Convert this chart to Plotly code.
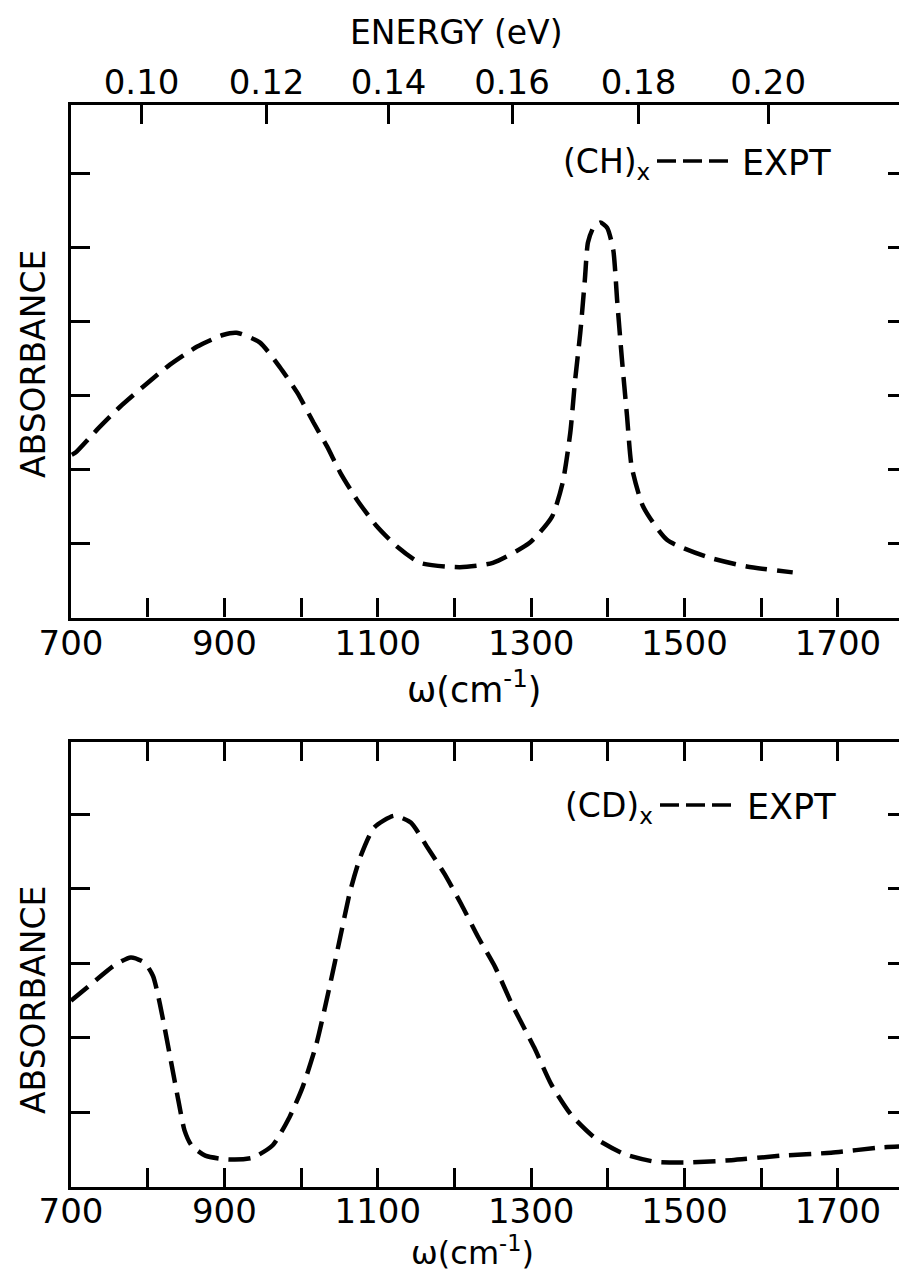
import plotly.graph_objects as go

# ---------------- data ----------------
# (CH)x experimental absorbance (arbitrary units, 1 unit = 1 tick step)
ch_wavenumber = [701, 706, 734, 764, 794, 829, 864, 898, 916, 946, 972, 995, 1016,
                 1034, 1051, 1073, 1099, 1125, 1155, 1207, 1250, 1298, 1327, 1341,
                 1351, 1357, 1364, 1370, 1374, 1381, 1390, 1399, 1407, 1412, 1418,
                 1425, 1431, 1446, 1477, 1529, 1581, 1641]
ch_absorbance = [2.20, 2.23, 2.54, 2.85, 3.12, 3.42, 3.66, 3.82, 3.85, 3.72, 3.39,
                 3.04, 2.64, 2.31, 1.96, 1.59, 1.23, 0.96, 0.74, 0.68, 0.74, 1.01,
                 1.36, 1.82, 2.50, 3.18, 3.85, 4.57, 5.07, 5.27, 5.34, 5.27, 4.97,
                 4.30, 3.53, 2.72, 2.04, 1.50, 1.05, 0.82, 0.69, 0.61]

# (CD)x experimental absorbance
cd_wavenumber = [700, 726, 756, 778, 796, 807, 815, 822, 831, 840, 848, 857, 875,
                 905, 936, 963, 985, 1002, 1020, 1037, 1051, 1064, 1077, 1095, 1121,
                 1143, 1165, 1187, 1209, 1231, 1253, 1275, 1304, 1326, 1352, 1383,
                 1422, 1461, 1504, 1561, 1626, 1691, 1757, 1800]
cd_absorbance = [2.50, 2.72, 2.97, 3.08, 3.01, 2.83, 2.50, 2.14, 1.65, 1.16, 0.76,
                 0.56, 0.42, 0.37, 0.39, 0.56, 0.94, 1.34, 1.92, 2.68, 3.35, 3.97,
                 4.42, 4.82, 4.98, 4.89, 4.55, 4.20, 3.79, 3.35, 2.95, 2.45, 1.87,
                 1.38, 0.97, 0.66, 0.44, 0.34, 0.33, 0.36, 0.42, 0.46, 0.53, 0.55]

# axis ticks
w_ticks = [700, 800, 900, 1000, 1100, 1200, 1300, 1400, 1500, 1600, 1700]
w_labels = ["700", "", "900", "", "1100", "", "1300", "", "1500", "", "1700"]
energy_labels = ["0.10", "0.12", "0.14", "0.16", "0.18", "0.20"]
energy_tick_cm = [792, 955, 1114, 1275, 1440, 1609]   # positions read on the cm-1 scale
y_ticks_top = [1, 2, 3, 4, 5, 6]
y_ticks_bot = [1, 2, 3, 4, 5]

# ---------------- layout geometry ----------------
OFF = 8            # default page (body) margin of the browser
W, H = 907 - OFF, 1271 - OFF
FONT = "DejaVu Sans"


def fx(s):
    """screen x (px) -> paper fraction"""
    return (s - OFF) / W


def fy(s):
    """screen y (px) -> paper fraction"""
    return 1 - (s - OFF) / H


XR = [700, 1790]
top_dom = [fy(617.5), fy(105)]
bot_dom = [fy(1187), fy(742)]
TOP_YR = [0, 6.93]
BOT_YR = [0, 5.97]

LW = 3.2
TL = 19
dash = "22px,10px"

fig = go.Figure()
line_style = dict(color="black", width=4.5, dash=dash, shape="spline", smoothing=0.6)
fig.add_trace(go.Scatter(x=ch_wavenumber, y=ch_absorbance, mode="lines", line=line_style,
                         xaxis="x", yaxis="y", showlegend=False, hoverinfo="skip"))
fig.add_trace(go.Scatter(x=cd_wavenumber, y=cd_absorbance, mode="lines", line=line_style,
                         xaxis="x3", yaxis="y2", showlegend=False, hoverinfo="skip"))
# empty traces so that the secondary (energy / right-hand) axes are drawn
for xa, ya in (("x2", "y"), ("x", "y3"), ("x3", "y4")):
    fig.add_trace(go.Scatter(x=[], y=[], mode="lines", xaxis=xa, yaxis=ya,
                             showlegend=False, hoverinfo="skip"))

common = dict(showgrid=False, zeroline=False, showline=True, linecolor="black", linewidth=LW,
              ticks="inside", ticklen=TL, tickwidth=LW, tickcolor="black", automargin=False,
              tickfont=dict(family=FONT, size=34, color="black"))
no_line = {**common, "showline": False}

fig.update_layout(
    width=W, height=H, paper_bgcolor="white", plot_bgcolor="white",
    margin=dict(l=0, r=0, t=0, b=0, autoexpand=False),
    xaxis=dict(domain=[fx(71), 1], range=XR, anchor="y", tickmode="array",
               tickvals=w_ticks, ticktext=w_labels, ticklabelstandoff=-6, **common),
    xaxis2=dict(overlaying="x", side="top", anchor="y", range=XR, tickmode="array",
                tickvals=energy_tick_cm, ticktext=energy_labels, ticklabelstandoff=-6, **common),
    xaxis3=dict(domain=[fx(71), 1], range=XR, anchor="y2", tickmode="array", mirror="ticks",
                tickvals=w_ticks, ticktext=w_labels, ticklabelstandoff=-8, **common),
    yaxis=dict(domain=top_dom, range=TOP_YR, anchor="x", tickmode="array",
               tickvals=y_ticks_top, showticklabels=False, **common),
    yaxis3=dict(overlaying="y", side="right", anchor="x", range=TOP_YR, tickmode="array",
                tickvals=y_ticks_top, showticklabels=False, **no_line),
    yaxis2=dict(domain=bot_dom, range=BOT_YR, anchor="x3", tickmode="array",
                tickvals=y_ticks_bot, showticklabels=False, **common),
    yaxis4=dict(overlaying="y2", side="right", anchor="x3", range=BOT_YR, tickmode="array",
                tickvals=y_ticks_bot, showticklabels=False, **no_line),
)

annotations = [
    dict(text="ENERGY (eV)", x=fx(456), y=fy(33), size=33),
    dict(text="ABSORBANCE", x=fx(33), y=fy(364), textangle=-90, size=33),
    dict(text="ABSORBANCE", x=fx(33), y=fy(1000), textangle=-90, size=33),
    dict(text="\u03c9(cm<sup>-1</sup>)", x=fx(474), y=fy(687), size=35),
    dict(text="\u03c9(cm<sup>-1</sup>)", x=fx(472), y=fy(1251), size=32),
    dict(text="(CH)<sub>x</sub>", x=fx(652), y=fy(163), xanchor="right", size=33),
    dict(text="EXPT", x=fx(740), y=fy(163), xanchor="left", size=35),
    dict(text="(CD)<sub>x</sub>", x=fx(655), y=fy(807), xanchor="right", size=33),
    dict(text="EXPT", x=fx(745), y=fy(807), xanchor="left", size=35),
]
for a in annotations:
    size = a.pop("size")
    a.setdefault("xanchor", "center")
    fig.add_annotation(xref="paper", yref="paper", showarrow=False, yanchor="middle",
                       font=dict(family=FONT, size=size, color="black"), **a)

# dashed key samples next to the "(CH)x" and "(CD)x" labels
for x0, x1, yc in ((657, 735, 161), (660, 738, 805)):
    fig.add_shape(type="line", xref="paper", yref="paper",
                  x0=fx(x0), x1=fx(x1), y0=fy(yc), y1=fy(yc),
                  line=dict(color="black", width=3.5, dash="19px,7px"))

fig.write_html("out.html")
